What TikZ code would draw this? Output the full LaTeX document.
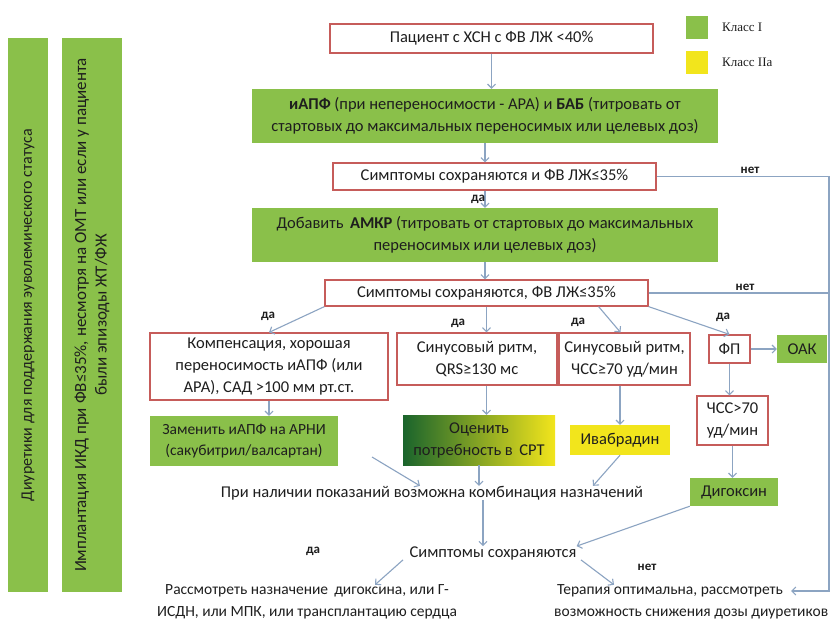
\documentclass[tikz,border=0pt]{standalone}
\usepackage{fontspec}
\setmainfont{Carlito}
\newfontfamily\legendfont{Liberation Serif}
\usetikzlibrary{arrows.meta}

\definecolor{klassone}{RGB}{138,192,74}
\definecolor{klasstwo}{RGB}{242,229,28}
\definecolor{darkgreen}{RGB}{26,100,44}
\definecolor{midgreen}{RGB}{120,170,40}
\definecolor{boxred}{RGB}{198,92,90}
\definecolor{arrowgray}{RGB}{140,164,194}
\definecolor{txt}{RGB}{30,30,30}

\tikzset{
  redbox/.style={draw=boxred, line width=1.2pt, fill=white, inner sep=0pt, align=center, text=txt},
  greenbox/.style={fill=klassone, inner sep=0pt, align=center, text=txt},
  yellowbox/.style={fill=klasstwo, inner sep=0pt, align=center, text=txt},
  plain/.style={inner sep=0pt, align=center, text=txt},
  sidebar/.style={fill=klassone, inner sep=0pt, align=center, text=txt, rotate=90, font=\fontsize{16}{20}\selectfont},
  conn/.style={draw=arrowgray, line width=1.1pt, -{Straight Barb[length=4pt,width=8pt]}},
  rail/.style={draw=arrowgray, line width=1.1pt},
  lbl/.style={inner sep=0pt, text=txt, font=\bfseries\fontsize{13}{15}\selectfont},
  legendtxt/.style={inner sep=0pt, anchor=west, text=txt, font=\legendfont\fontsize{13}{15}\selectfont},
}

\begin{document}
\begin{tikzpicture}[x=1pt, y=-1pt, font=\fontsize{16.5}{22}\selectfont]
		%%%%% START %%%%%
		\fill[white] (0,0) rectangle (840,624);
		\useasboundingbox (0,0) rectangle (840,624);
		
		% side bars
		\node[sidebar, minimum width=554, minimum height=40] (diur) at (28,315) {Диуретики для поддержания эуволемического статуса};
		\node[sidebar, minimum width=554, minimum height=60, font=\fontsize{17}{20.5}\selectfont] (ikd) at (92,315) {Имплантация ИКД при ФВ≤35\%, несмотря на ОМТ или если у пациента\\были эпизоды ЖТ/ФЖ};
		
		% legend
		\node[fill=klassone, minimum width=22, minimum height=23, inner sep=0pt] (leg1) at (697,27) {};
		\node[legendtxt] (leg1txt) at (722,27) {Класс I};
		\node[fill=klasstwo, minimum width=22, minimum height=23, inner sep=0pt] (leg2) at (697,62) {};
		\node[legendtxt] (leg2txt) at (722,62) {Класс IIa};
		
		% main column
		\node[redbox, minimum width=323, minimum height=29] (patient) at (491.5,38.5) {Пациент с ХСН с ФВ ЛЖ <40\%};
		\node[greenbox, minimum width=466, minimum height=54] (iapf) at (485,116) {\textbf{иАПФ} (при непереносимости - АРА) и \textbf{БАБ} (титровать от\\стартовых до максимальных переносимых или целевых доз)};
		\node[redbox, minimum width=323, minimum height=27] (sympt1) at (494.5,176.5) {Симптомы сохраняются и ФВ ЛЖ≤35\%};
		\node[greenbox, minimum width=466, minimum height=54] (amkr) at (485,235) {Добавить \,\textbf{АМКР} (титровать от стартовых до максимальных\\переносимых или целевых доз)};
		\node[redbox, minimum width=323, minimum height=26] (sympt2) at (486.5,293) {Симптомы сохраняются, ФВ ЛЖ≤35\%};
		
		% branches
		\node[redbox, minimum width=238, minimum height=67] (komp) at (269,366.5) {Компенсация, хорошая\\переносимость иАПФ (или\\АРА), САД >100 мм рт.ст.};
		\node[redbox, minimum width=160, minimum height=52] (qrs) at (477,359) {Синусовый ритм,\\QRS≥130 мс};
		\node[redbox, minimum width=131, minimum height=52] (chss) at (624.5,359) {Синусовый ритм,\\ЧСС≥70 уд/мин};
		\node[redbox, minimum width=41, minimum height=28] (fp) at (729.5,349) {ФП};
		\node[greenbox, minimum width=50, minimum height=28] (oak) at (802,349) {ОАК};
		\node[redbox, minimum width=71, minimum height=49] (chss70) at (732.5,420.5) {ЧСС>70\\уд/мин};
		
		\node[greenbox, minimum width=188, minimum height=50, font=\fontsize{15.5}{21}\selectfont] (arni) at (244,441) {Заменить иАПФ на АРНИ\\(сакубитрил/валсартан)};
		\node[left color=darkgreen, middle color=midgreen, right color=klasstwo, minimum width=152, minimum height=50, inner sep=0pt, align=center, text=txt] (crt) at (479,440) {Оценить\\потребность в \,СРТ};
		\node[yellowbox, minimum width=100, minimum height=30] (ivab) at (620,440) {Ивабрадин};
		\node[greenbox, minimum width=88, minimum height=28] (digox) at (734,492) {Дигоксин};
		
		\node[plain] (comb) at (432,493) {При наличии показаний возможна комбинация назначений};
		\node[plain] (sympt3) at (493,553) {Симптомы сохраняются};
		\node[plain, font=\fontsize{15.5}{21.5}\selectfont] (consider) at (307,602) {Рассмотреть назначение \,дигоксина, или Г-\\ИСДН, или МПК, или трансплантацию сердца};
		\node[plain, align=left, anchor=west, font=\fontsize{15.5}{21.5}\selectfont] (optimal) at (554,602) {\hspace{3pt}Терапия оптимальна, рассмотреть\\возможность снижения дозы диуретиков};
		
		\coordinate (railx) at (829,0);
		\coordinate (loopend) at (791,591);
		\coordinate (arniout) at (372,457);
		
		% connectors
		\draw[conn] (patient.south) -- (patient.south |- iapf.north);
		\draw[conn] (iapf.south) -- (iapf.south |- sympt1.north);
		\draw[conn] (iapf.south |- sympt1.south) -- (iapf.south |- amkr.north);
		\draw[conn] (amkr.south) -- (amkr.south |- sympt2.north);
		
		\draw[conn] (sympt2.south west) -- (komp.north);
		\draw[conn] (sympt2.south) -- (sympt2.south |- qrs.north);
		\draw[conn] ([xshift=-50pt]sympt2.south east) -- ([xshift=-4pt]chss.north);
		\draw[conn] (sympt2.south east) -- (fp.north);
		\draw[conn] (fp.east) -- (oak.west);
		\draw[conn] (fp.south) -- (fp.south |- chss70.north);
		\draw[conn] (chss70.south) -- (chss70.south |- digox.north);
		
		\draw[conn] (komp.south) -- (komp.south |- arni.north);
		\draw[conn] (sympt2.south |- qrs.south) -- (sympt2.south |- crt.north);
		\draw[conn] (ivab.north |- chss.south) -- (ivab.north);
		
		\draw[conn] (arniout) -- ([xshift=-12pt]comb.north);
		\draw[conn] (crt.south) -- (crt.south |- comb.north);
		\draw[conn] (ivab.south) -- ([xshift=161pt]comb.north);
		\draw[conn] ([xshift=51pt]comb.south) -- ([xshift=-10pt]sympt3.north);
		\draw[conn] (digox.south west) -- (sympt3.north east);
		\draw[conn] ([xshift=-90pt]sympt3.south) -- ([xshift=68pt]consider.north);
		\draw[conn] ([xshift=88pt]sympt3.south) -- ([xshift=60pt]optimal.north west);
		
		\draw[rail] (sympt2.east) -- (railx |- sympt2.east);
		\draw[conn] (sympt1.east) -- (railx |- sympt1.east) -- (railx |- loopend) -- (loopend);
		
		% labels
		\node[lbl] (yes1) at (478,199) {да};
		\node[lbl] (no1) at (750,170) {нет};
		\node[lbl] (no2) at (745,287) {нет};
		\node[lbl] (yes2) at (268,316) {да};
		\node[lbl] (yes3) at (458,323) {да};
		\node[lbl] (yes4) at (578,322) {да};
		\node[lbl] (yes5) at (723,317) {да};
		\node[lbl] (yes6) at (313,551) {да};
		\node[lbl] (no3) at (647,567) {нет};
		%%%%% END %%%%%
\end{tikzpicture}
\end{document}
